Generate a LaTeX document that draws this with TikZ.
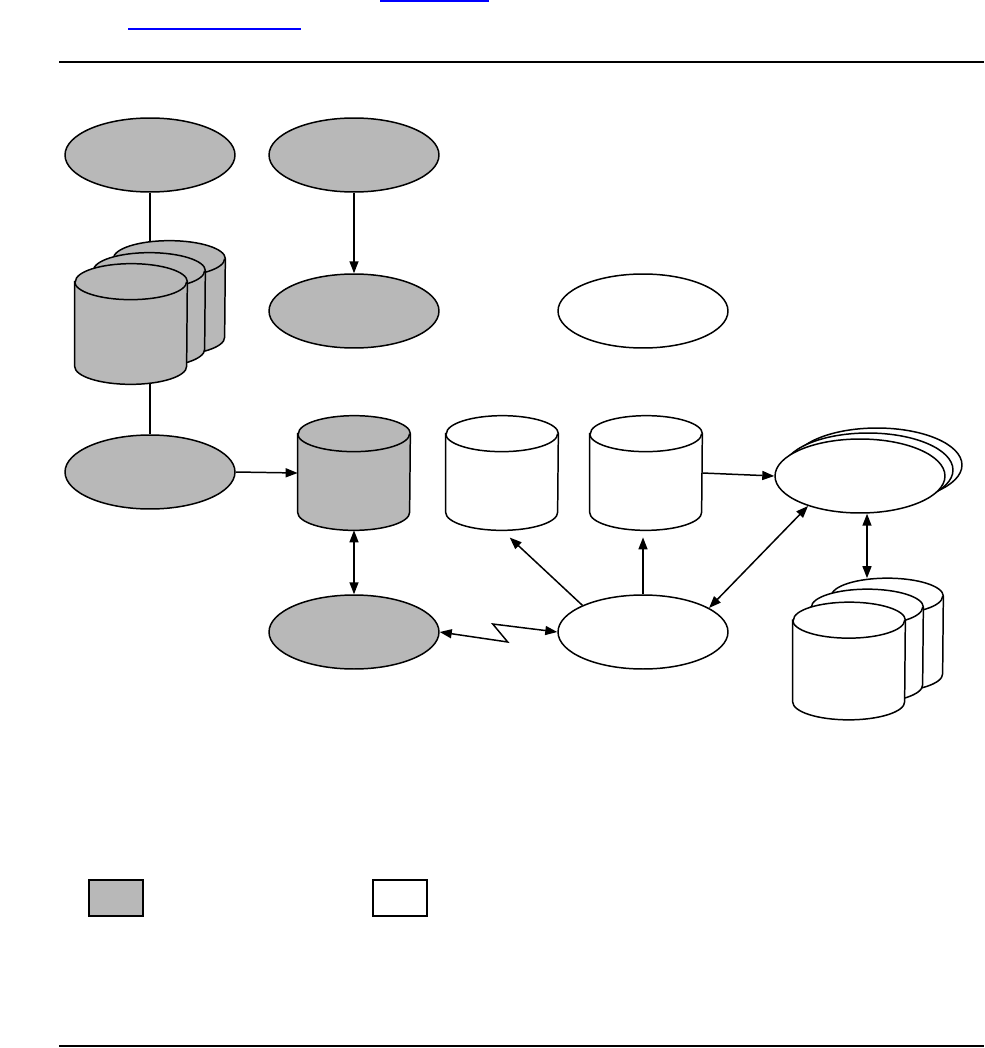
\documentclass[tikz,border=0pt]{standalone}
\usepackage{xcolor}
\usepackage{tikz}
\usetikzlibrary{shapes.geometric, arrows.meta, positioning, calc}
\definecolor{dbgray}{RGB}{184,184,184}
\definecolor{linkblue}{RGB}{0,0,255}

\tikzset{
    proc/.style={ellipse, draw=black, line width=0.85pt, minimum width=3.4cm, minimum height=1.48cm, inner sep=0pt},
    diskbox/.style={rectangle, minimum width=2.24cm, minimum height=2.28cm, inner sep=0pt},
    disk/.style={draw=black, line width=0.85pt},
    conn/.style={line width=0.85pt},
    keybox/.style={draw=black, line width=1.1pt, minimum width=1.08cm, minimum height=0.72cm, inner sep=0pt},
    >={Triangle[length=0.24cm,width=0.18cm]}
}

% cylinder drawn over a named diskbox node
\newcommand{\drawdisk}[2]{%
  \filldraw[disk, fill=#2] ($(#1.north west)+(0pt,-0.36cm)$) -- ($(#1.south west)+(0pt,0.36cm)$)
    arc[start angle=180, end angle=360, x radius=1.12cm, y radius=0.36cm]
    -- ($(#1.north east)+(0pt,-0.36cm)$)
    arc[start angle=0, end angle=180, x radius=1.12cm, y radius=0.36cm] -- cycle;
  \draw[disk] ($(#1.north west)+(0pt,-0.36cm)$)
    arc[start angle=180, end angle=360, x radius=1.12cm, y radius=0.36cm];
}

\begin{document}
\begin{tikzpicture}[x=0.02cm, y=-0.02cm]
\useasboundingbox (0,0) rectangle (984,1048);

% page decoration
\draw[linkblue, line width=0.9pt] (380,1) -- (489,1);
\draw[linkblue, line width=0.9pt] (128,29) -- (301,29);
\draw[line width=1.1pt] (59,62) -- (984,62);
\draw[line width=1.3pt] (59,1046) -- (984,1046);

% top row
\node[proc, fill=dbgray] (src1) at (150,155) {};
\node[proc, fill=dbgray] (src2) at (354,155) {};
\node[proc, fill=dbgray] (feed) at (354,311) {};
\node[proc, fill=white] (extn) at (643,311) {};

% gray disk stack
\node[diskbox] (arch3) at (169,298) {};
\drawdisk{arch3}{dbgray}
\node[diskbox] (arch2) at (149,310) {};
\drawdisk{arch2}{dbgray}
\node[diskbox, minimum height=2.4cm] (arch1) at (131,324) {};
\drawdisk{arch1}{dbgray}

% middle row
\node[proc, fill=dbgray] (load) at (150,472) {};
\node[diskbox] (main) at (354,473) {};
\drawdisk{main}{dbgray}
\node[diskbox] (repa) at (502,473) {};
\drawdisk{repa}{white}
\node[diskbox] (repb) at (646,473) {};
\drawdisk{repb}{white}

% client ellipses
\node[proc, fill=white] (clnt3) at (877,465) {};
\node[proc, fill=white] (clnt2) at (868,470) {};
\node[proc, fill=white] (clnt1) at (860,476) {};

% bottom row
\node[proc, fill=dbgray] (host) at (354,632) {};
\node[proc, fill=white] (serv) at (643,632) {};

% white disk stack
\node[diskbox, minimum height=2.26cm] (disk3) at (887,635) {};
\drawdisk{disk3}{white}
\node[diskbox, minimum height=2.26cm] (disk2) at (867,646) {};
\drawdisk{disk2}{white}
\node[diskbox, minimum height=2.34cm] (disk1) at (849,661) {};
\drawdisk{disk1}{white}

% legend
\node[keybox, fill=dbgray] (keygray) at (116,898) {};
\node[keybox, fill=white] (keywhite) at (400,898) {};

% connectors
\draw[conn, line width=1.2pt] (src1.south) -- (src1.south |- arch3.north);
\draw[conn, ->] (src2.south) -- (feed.north);
\draw[conn] (load.north |- arch1.south) -- (load.north);
\draw[conn, ->] (load.east) -- (main.west);
\draw[conn, <->] (main.south) -- (host.north);
\draw[conn, <->] (host.east) -- ++(68,10) -- ++(-15,-18) -- (serv.west);
\draw[conn, ->, shorten >=6pt] (serv.north west) -- (repa.south);
\draw[conn, ->, shorten >=4pt] (serv.north) -- (serv.north |- repb.south);
\draw[conn, ->] (repb.east) -- (clnt1.west);
\draw[conn, <->] (serv.20) -- (clnt1.210);
\draw[conn, <->] (clnt1.south -| disk2.north) -- (disk3.north -| disk2.north);

\end{tikzpicture}
\end{document}
